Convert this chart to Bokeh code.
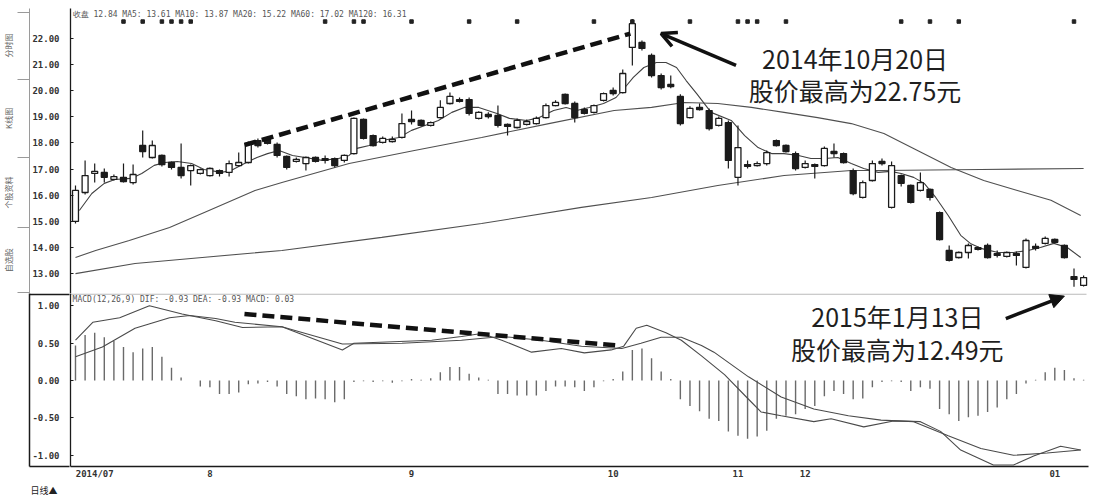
from bokeh.plotting import figure
from bokeh.layouts import column
from bokeh.models import (ColumnDataSource, Range1d, FixedTicker, NumeralTickFormatter,
                          Label, Arrow, OpenHead, NormalHead, BoxAnnotation, LinearAxis, Title)
from bokeh.embed import file_html
from bokeh.resources import INLINE

# ---------------- daily candles (price, 元) ----------------
opens = [14.99, 16.10, 16.83, 16.87, 16.60, 16.68, 16.48, 17.90, 17.44, 17.52,
         17.25, 17.06, 16.94, 16.83, 16.75, 16.94, 16.87, 17.13, 17.25, 18.09,
         18.17, 17.94, 17.48, 17.29, 17.21, 17.44, 17.40, 17.40, 17.33, 17.59,
         18.90, 18.28, 18.02, 18.05, 18.21, 18.90, 18.86, 18.67, 18.97, 19.51,
         19.66, 19.66, 18.94, 19.09, 19.05, 18.71, 18.59, 18.71, 18.74, 18.97,
         19.43, 19.86, 19.51, 19.28, 19.17, 19.63, 20.01, 19.93, 21.66, 21.85,
         21.35, 20.58, 20.24, 19.78, 18.97, 19.36, 19.24, 18.67, 18.78, 16.68,
         17.17, 17.13, 17.21, 18.09, 17.90, 17.59, 17.06, 17.17, 17.13, 17.67,
         17.59, 16.94, 15.91, 16.56, 17.29, 15.53, 16.75, 16.37, 16.18, 16.22,
         15.33, 13.88, 13.61, 13.80, 13.99, 14.07, 13.76, 13.65, 13.76, 13.23,
         14.03, 14.15, 14.30, 14.07, 12.88, 12.54]
highs = [16.37, 17.33, 17.21, 17.02, 16.79, 17.21, 17.17, 18.48, 18.09, 17.56,
         17.29, 17.98, 17.17, 17.02, 17.06, 16.98, 17.33, 17.63, 18.05, 18.17,
         18.25, 18.02, 17.52, 17.44, 17.48, 17.48, 17.52, 17.44, 17.56, 18.97,
         18.94, 18.32, 18.25, 18.25, 19.13, 19.24, 18.90, 18.82, 19.63, 19.93,
         19.74, 19.74, 19.21, 19.17, 19.43, 18.74, 18.94, 18.90, 19.01, 19.51,
         19.63, 19.89, 19.59, 19.36, 19.47, 19.93, 20.12, 20.81, 22.75, 21.92,
         21.43, 20.66, 20.58, 19.86, 19.40, 19.51, 19.32, 19.01, 18.86, 18.67,
         17.33, 17.29, 17.71, 18.13, 17.94, 17.67, 17.33, 17.21, 17.86, 17.98,
         17.63, 17.02, 16.56, 17.33, 17.40, 17.29, 16.79, 16.41, 16.87, 16.25,
         15.37, 14.07, 13.84, 14.15, 14.03, 14.15, 13.88, 13.84, 13.84, 14.34,
         14.15, 14.41, 14.34, 14.11, 13.19, 12.92]
lows = [14.91, 16.02, 16.48, 16.48, 16.56, 16.48, 16.41, 17.44, 17.40, 17.10,
        16.98, 16.64, 16.37, 16.79, 16.71, 16.71, 16.71, 17.10, 17.21, 17.82,
        17.94, 17.44, 16.98, 17.25, 16.94, 17.25, 17.21, 17.06, 17.25, 17.56,
        18.13, 17.86, 17.98, 18.02, 18.17, 18.71, 18.63, 18.63, 18.94, 19.47,
        19.55, 19.05, 18.90, 18.94, 18.59, 18.28, 18.55, 18.67, 18.71, 18.94,
        19.40, 19.47, 18.78, 19.09, 19.13, 19.59, 19.82, 19.89, 20.97, 21.54,
        20.51, 20.05, 20.09, 18.67, 18.94, 19.24, 18.48, 18.63, 17.02, 16.37,
        17.02, 17.10, 17.13, 17.86, 17.63, 16.94, 17.02, 16.64, 17.10, 17.44,
        17.21, 15.99, 15.87, 16.52, 17.13, 15.49, 16.33, 15.68, 16.14, 15.79,
        14.26, 13.46, 13.57, 13.57, 13.88, 13.57, 13.61, 13.61, 13.30, 13.19,
        13.88, 14.11, 14.15, 13.57, 12.49, 12.50]
closes = [16.18, 16.75, 16.91, 16.68, 16.71, 16.52, 16.79, 17.67, 17.90, 17.17,
          17.06, 16.75, 17.13, 16.98, 17.02, 16.83, 17.21, 17.25, 17.98, 17.90,
          17.98, 17.52, 17.06, 17.37, 17.44, 17.29, 17.33, 17.13, 17.52, 18.94,
          18.17, 17.90, 18.17, 18.13, 18.74, 18.82, 18.67, 18.78, 19.36, 19.78,
          19.59, 19.13, 19.17, 19.01, 18.67, 18.63, 18.86, 18.82, 18.94, 19.43,
          19.55, 19.51, 18.97, 19.13, 19.43, 19.89, 19.89, 20.66, 22.57, 21.62,
          20.58, 20.12, 20.16, 18.74, 19.32, 19.28, 18.55, 18.94, 17.33, 17.82,
          17.10, 17.21, 17.63, 17.90, 17.67, 17.02, 17.21, 17.10, 17.79, 17.59,
          17.25, 16.06, 16.48, 17.21, 17.21, 17.13, 16.45, 15.72, 16.48, 15.91,
          14.30, 13.50, 13.80, 14.07, 13.92, 13.61, 13.69, 13.80, 13.69, 14.26,
          13.96, 14.34, 14.19, 13.61, 12.77, 12.84]

# moving averages, sampled along each curve (candle position, price)
ma5_pos = [0.4, 1.7, 3.0, 4.1, 5.8, 6.9, 8.2, 9.3, 10.6, 12.1, 13.4, 15.2, 16.2, 17.6,
           18.9, 20.0, 21.2, 22.6, 23.9, 25.7, 27.4, 28.5, 29.3, 30.6, 31.9, 33.7,
           35.0, 36.4, 37.8, 39.2, 40.5, 42.0, 43.9, 45.2, 47.0, 48.3, 49.8, 51.1,
           52.2, 53.5, 55.0, 56.3, 57.4, 58.1, 59.2, 60.5, 61.5, 62.6, 63.6, 64.7,
           66.2, 68.3, 69.7, 71.1, 72.5, 73.8, 75.3, 76.6, 78.0, 79.4, 80.8, 82.1,
           83.6, 84.9, 86.0, 87.3, 88.4, 89.6, 90.9, 92.2, 93.2, 94.3, 96.1, 97.7,
           99.2, 100.5, 101.9, 103.3, 104.7]
ma5_val = [15.41, 16.06, 16.45, 16.60, 16.64, 16.83, 17.14, 17.25, 17.29, 17.21, 16.98,
           16.87, 16.94, 17.21, 17.44, 17.59, 17.71, 17.52, 17.44, 17.33, 17.40, 17.52,
           17.79, 17.90, 18.09, 18.21, 18.48, 18.67, 18.86, 19.17, 19.36, 19.36, 19.13,
           18.94, 18.86, 18.97, 19.24, 19.36, 19.24, 19.36, 19.51, 19.74, 20.20, 20.51,
           20.89, 21.08, 21.08, 20.89, 20.39, 19.89, 19.17, 18.86, 18.28, 17.82, 17.59,
           17.59, 17.52, 17.40, 17.40, 17.44, 17.21, 17.02, 16.87, 16.91, 16.83, 16.68,
           16.45, 15.91, 15.22, 14.46, 14.15, 13.96, 13.80, 13.80, 13.88, 13.99, 14.15,
           13.99, 13.61]
ma20_pos = [0.0, 2.1, 5.6, 9.8, 13.9, 18.7, 21.5, 28.5, 35.3, 42.3, 49.3, 56.1, 60.0,
            63.4, 66.9, 70.4, 73.8, 77.3, 80.8, 84.2, 87.7, 91.2, 94.6, 98.1, 101.6, 104.7]
ma20_val = [13.61, 13.88, 14.26, 14.76, 15.41, 16.18, 16.48, 17.21, 17.71, 18.21, 18.74,
            19.24, 19.36, 19.55, 19.51, 19.36, 19.17, 18.97, 18.74, 18.36, 17.71, 17.06,
            16.56, 16.18, 15.80, 15.22]
ma60_pos = [0.0, 6.2, 13.2, 21.5, 31.9, 42.3, 52.7, 60.0, 66.9, 73.8, 80.8, 83.9, 94.3, 105.0]
ma60_val = [12.99, 13.38, 13.61, 13.88, 14.38, 14.91, 15.53, 15.91, 16.37, 16.75, 16.94,
            16.94, 16.98, 17.02]

# ---------------- MACD ----------------
macd_bar = [0.47, 0.61, 0.64, 0.58, 0.53, 0.45, 0.38, 0.43, 0.45, 0.32,
            0.17, 0.04, 0.00, -0.08, -0.09, -0.18, -0.18, -0.16, -0.05, -0.04,
            -0.02, -0.08, -0.18, -0.21, -0.25, -0.24, -0.25, -0.29, -0.25, -0.02,
            -0.01, -0.02, -0.01, -0.03, -0.01, 0.02, 0.01, 0.03, 0.11, 0.18,
            0.18, 0.09, 0.04, 0.01, -0.18, -0.18, -0.20, -0.20, -0.20, -0.14,
            -0.08, -0.08, -0.09, -0.14, -0.09, -0.01, 0.02, 0.12, 0.41, 0.43,
            0.30, 0.12, 0.02, -0.25, -0.34, -0.41, -0.51, -0.54, -0.68, -0.74,
            -0.78, -0.75, -0.67, -0.51, -0.47, -0.45, -0.38, -0.34, -0.21, -0.14,
            -0.18, -0.25, -0.24, -0.09, -0.02, -0.01, -0.02, -0.14, -0.09, -0.11,
            -0.38, -0.45, -0.54, -0.49, -0.47, -0.42, -0.36, -0.25, -0.18, -0.04,
            0.01, 0.11, 0.17, 0.14, 0.03, 0.01]
dif_pos = [0.0, 1.8, 4.6, 7.7, 11.1, 14.6, 17.4, 21.5, 27.8, 29.0, 37.1, 40.2, 42.3, 44.4,
           47.5, 50.6, 53.0, 55.8, 57.1, 58.4, 59.5, 61.5, 63.1, 65.2, 67.6, 70.1, 71.4,
           73.5, 76.9, 78.7, 82.1, 85.2, 88.0, 90.1, 92.2, 95.6, 97.7, 99.8, 102.6, 104.7]
dif_val = [0.54, 0.78, 0.84, 1.00, 0.89, 0.80, 0.71, 0.72, 0.41, 0.50, 0.54, 0.59, 0.63,
           0.54, 0.38, 0.43, 0.37, 0.41, 0.46, 0.70, 0.74, 0.64, 0.54, 0.33, 0.08, -0.25,
           -0.42, -0.47, -0.55, -0.51, -0.62, -0.54, -0.55, -0.68, -0.93, -1.13, -1.13,
           -1.01, -0.88, -0.93]
dea_pos = [0.0, 2.8, 6.2, 9.8, 11.9, 14.6, 16.6, 21.5, 27.8, 34.0, 40.2, 44.4, 48.5, 52.7,
           56.9, 58.9, 61.0, 63.1, 65.2, 66.5, 70.1, 73.5, 76.9, 80.5, 83.9, 87.3, 90.9,
           94.3, 97.7, 101.2, 104.7]
dea_val = [0.32, 0.45, 0.70, 0.84, 0.87, 0.83, 0.78, 0.72, 0.49, 0.50, 0.54, 0.59, 0.54,
           0.46, 0.43, 0.50, 0.58, 0.58, 0.47, 0.38, 0.05, -0.22, -0.38, -0.47, -0.53,
           -0.55, -0.74, -0.91, -1.00, -0.97, -0.93]

# information-marker days along the top edge
event_pos = [5, 7, 9, 10, 11, 12, 26, 29, 30, 35, 41, 46, 54, 58, 64, 69, 70, 71, 74,
             86, 89, 92, 104]

# divergence guide lines (price highs rising, MACD highs falling)
guide_price_pos = [17.6, 57.8]
guide_price_val = [17.92, 22.19]
guide_macd_pos = [17.6, 56.3]
guide_macd_val = [0.89, 0.47]

month_tick_pos = [2, 14, 35, 56, 69, 76, 102]
month_tick_lab = ["2014/07", "8", "9", "10", "11", "12", "01"]
price_ticks = [13, 14, 15, 16, 17, 18, 19, 20, 21, 22]
macd_ticks = [-1.0, -0.5, 0.0, 0.5, 1.0]
side_tabs = ["分时图", "K线图", "个股资料", "自选股"]

peak_i = 58      # 2014-10-20
low_i = 104      # 2015-01-13

# ---------------- figures ----------------
n = len(opens)
xr = Range1d(-0.52, 105.51)
INK = "#1b1b1b"
MONO = "DejaVu Sans Mono"
CJK = "Noto Sans CJK SC"

p1 = figure(width=1110, height=293, x_range=xr, y_range=Range1d(12.23, 23.15),
            output_backend="svg", toolbar_location=None, x_axis_location=None,
            min_border_left=68, min_border_right=22, min_border_top=8, min_border_bottom=0)
p2 = figure(width=1110, height=203, x_range=xr, y_range=Range1d(-1.15, 1.165),
            output_backend="svg", toolbar_location=None,
            min_border_left=68, min_border_right=22, min_border_top=0, min_border_bottom=25)

for p in (p1, p2):
    p.outline_line_color = None
    p.grid.visible = False
    p.background_fill_color = "white"
    p.border_fill_color = "white"
    ax = p.yaxis[0]
    ax.axis_line_color = INK
    ax.axis_line_width = 1.3
    ax.major_tick_in = 3
    ax.major_tick_out = 0
    ax.minor_tick_line_color = None
    ax.major_tick_line_color = INK
    ax.major_label_text_font = MONO
    ax.major_label_text_font_size = "9px"
    ax.major_label_text_font_style = "bold"
    ax.major_label_text_color = "#333333"
    ax.major_label_standoff = 11
    ax.formatter = NumeralTickFormatter(format="0.00")

p1.yaxis[0].ticker = FixedTicker(ticks=price_ticks)
p2.yaxis[0].ticker = FixedTicker(ticks=macd_ticks)

xa = p2.xaxis[0]
xa.ticker = FixedTicker(ticks=month_tick_pos)
xa.major_label_overrides = {t: s for t, s in zip(month_tick_pos, month_tick_lab)}
xa.axis_line_color = INK
xa.axis_line_width = 1.3
xa.major_tick_in = 0
xa.major_tick_out = 0
xa.minor_tick_line_color = None
xa.major_label_text_font = MONO
xa.major_label_text_font_size = "9px"
xa.major_label_text_font_style = "bold"
xa.major_label_text_color = "#333333"
xa.major_label_standoff = 2

# period caption under the indicator's label box
p2.add_layout(Title(text="日线▲", align="left", offset=-40, standoff=0,
                    text_font=CJK, text_font_size="9px", text_font_style="normal",
                    text_color="#222222", text_line_height=1.0), "below")

# side tab strip of the price pane: an outer axis whose labels are the tab names
tab_centers = [21.73, 18.94, 16.10, 13.50]
tab_edges = [23.00, 20.43, 17.44, 14.76, 12.27]
tabs = LinearAxis(ticker=FixedTicker(ticks=tab_centers, minor_ticks=tab_edges),
                  major_label_overrides={c: t for c, t in zip(tab_centers, side_tabs)},
                  major_label_orientation="vertical",
                  major_label_text_font=CJK, major_label_text_font_size="8px",
                  major_label_text_color="#666666", major_label_standoff=3,
                  major_tick_in=0, major_tick_out=0,
                  minor_tick_in=0, minor_tick_out=12, minor_tick_line_color="#9a9a9a",
                  axis_line_color="#9a9a9a", axis_line_width=1)
p1.add_layout(tabs, "left")

# outer axis of the indicator pane: its line and two long inward ticks close the label box
box_ax = LinearAxis(ticker=FixedTicker(ticks=[], minor_ticks=[-1.145, 1.158]),
                    major_tick_in=0, major_tick_out=0,
                    minor_tick_in=40, minor_tick_out=0, minor_tick_line_color=INK,
                    minor_tick_line_width=1.5, axis_line_color=INK, axis_line_width=1.5)
p2.add_layout(box_ax, "left")

# ---------------- price panel ----------------
up = [c >= o for o, c in zip(opens, closes)]
src_all = ColumnDataSource(dict(x=list(range(n)), high=highs, low=lows))
src_up = ColumnDataSource(dict(
    x=[i for i in range(n) if up[i]],
    top=[closes[i] for i in range(n) if up[i]],
    bot=[opens[i] for i in range(n) if up[i]]))
src_dn = ColumnDataSource(dict(
    x=[i for i in range(n) if not up[i]],
    top=[opens[i] for i in range(n) if not up[i]],
    bot=[closes[i] for i in range(n) if not up[i]]))

p1.line(ma60_pos, ma60_val, line_color="#505050", line_width=1.1)
p1.line(ma20_pos, ma20_val, line_color="#505050", line_width=1.1)
p1.line(ma5_pos, ma5_val, line_color="#404040", line_width=1.1)

p1.segment(x0="x", y0="low", x1="x", y1="high", source=src_all, line_color=INK, line_width=1.2)
p1.vbar(x="x", top="top", bottom="bot", width=0.62, source=src_up,
        fill_color="white", line_color=INK, line_width=1.3)
p1.vbar(x="x", top="top", bottom="bot", width=0.62, source=src_dn,
        fill_color=INK, line_color=INK, line_width=1.3)

p1.scatter(event_pos, [22.65] * len(event_pos), marker="square", size=3.5,
           fill_color="#222222", line_color="#222222")

p1.line(guide_price_pos, guide_price_val, line_color="#111111", line_width=4.5, line_dash="12 6")

p1.add_layout(Arrow(end=OpenHead(size=15, line_width=3.5, line_color="#111111"),
                    x_start=68.8, y_start=20.97, x_end=61.0, y_end=22.19,
                    line_color="#111111", line_width=3.5))
p1.add_layout(Label(x=81.2, y=21.27, text="2014年10月20日", text_align="center",
                    text_baseline="middle", text_font=CJK, text_font_size="25px",
                    text_color="#1f1f1f"))
p1.add_layout(Label(x=81.2, y=20.01, text=f"股价最高为{highs[peak_i]:.2f}元",
                    text_align="center", text_baseline="middle", text_font=CJK,
                    text_font_size="25px", text_color="#1f1f1f"))

p1.add_layout(Label(x=-0.3, y=22.92, text="收盘 12.84  MA5: 13.61  MA10: 13.87  MA20: 15.22  MA60: 17.02  MA120: 16.31",
                    text_baseline="middle", text_font=MONO, text_font_size="8px",
                    text_color="#555555"))

# ---------------- MACD panel ----------------
p2.segment(x0=list(range(n)), y0=[0] * n, x1=list(range(n)), y1=macd_bar,
           line_color="#6a6a6a", line_width=1.4)
p2.line(dea_pos, dea_val, line_color="#4a4a4a", line_width=1.1)
p2.line(dif_pos, dif_val, line_color="#4a4a4a", line_width=1.1)

p2.line(guide_macd_pos, guide_macd_val, line_color="#111111", line_width=4.5, line_dash="12 6")

p2.add_layout(Arrow(end=NormalHead(size=14, fill_color="#111111", line_color="#111111"),
                    x_start=96.9, y_start=0.83, x_end=103.0, y_end=1.13,
                    line_color="#111111", line_width=3.5))
p2.add_layout(Label(x=85.6, y=0.87, text="2015年1月13日", text_align="center",
                    text_baseline="middle", text_font=CJK, text_font_size="25px",
                    text_color="#1f1f1f"))
p2.add_layout(Label(x=85.6, y=0.42, text=f"股价最高为{lows[low_i]:.2f}元",
                    text_align="center", text_baseline="middle", text_font=CJK,
                    text_font_size="25px", text_color="#1f1f1f"))
p2.add_layout(Label(x=-0.3, y=1.09, text="MACD(12,26,9)  DIF: -0.93  DEA: -0.93  MACD: 0.03",
                    text_baseline="middle", text_font=MONO, text_font_size="8px",
                    text_color="#555555"))

# pane separator along the top of the indicator frame
p2.add_layout(BoxAnnotation(left=0, right=1086, top=0.7, bottom=0.7,
                            left_units="canvas", right_units="canvas",
                            top_units="canvas", bottom_units="canvas",
                            fill_alpha=0, line_color=INK, line_width=1.3))

layout = column(p1, p2)
open("out.html", "w").write(file_html(layout, INLINE, title="K线与MACD"))
